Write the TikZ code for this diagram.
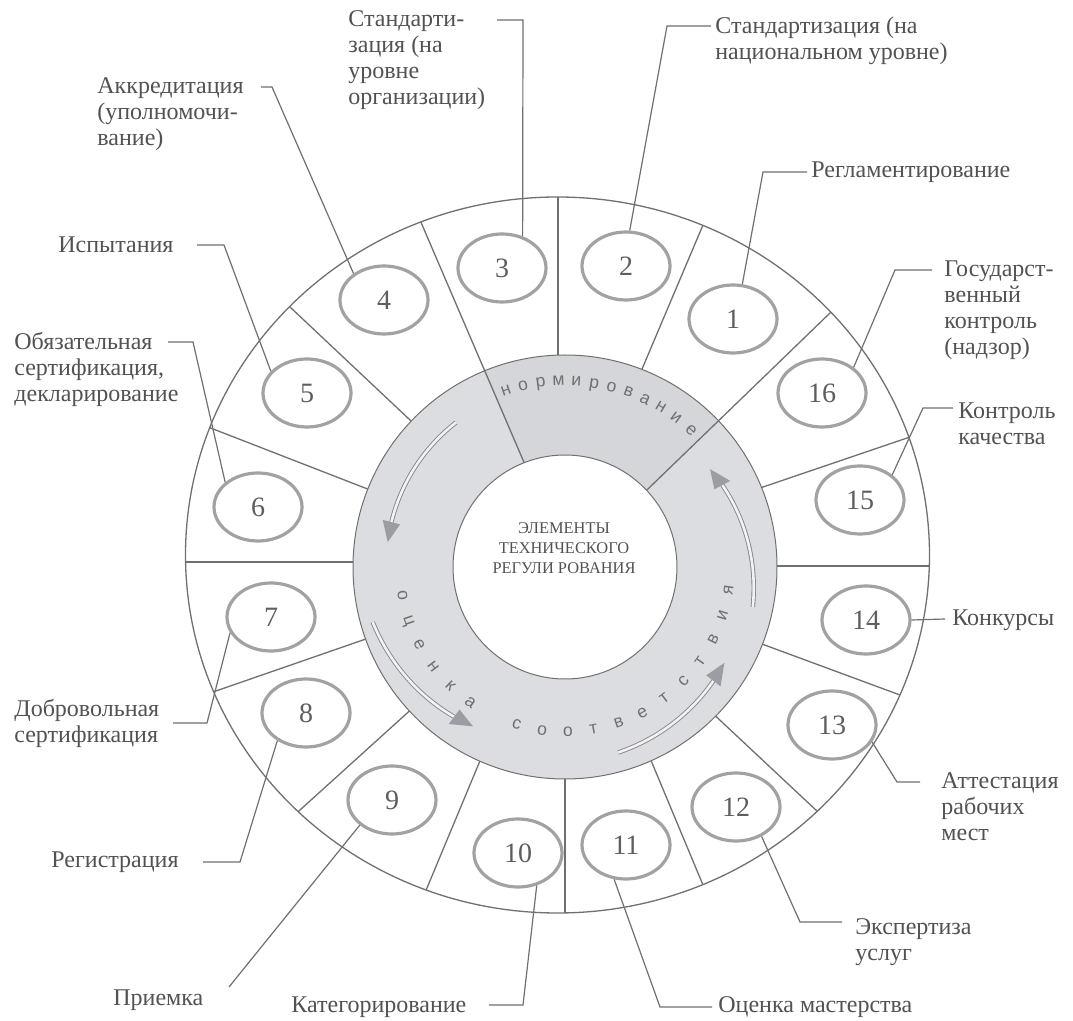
\documentclass[tikz,border=0pt]{standalone}
\usepackage{fontspec}
\setmainfont{Liberation Serif}
\newfontfamily\ringfont{Liberation Sans}
\usetikzlibrary{shapes.geometric,calc}
\definecolor{txt}{HTML}{525252}
\definecolor{ln}{HTML}{707070}
\definecolor{ellc}{HTML}{A2A2A2}
\definecolor{ringfill}{HTML}{DCDDE1}
\definecolor{ringtop}{HTML}{D5D6DA}
\definecolor{arrc}{HTML}{9C9CA4}
\definecolor{numc}{HTML}{5E5E5E}
\definecolor{ringtxt}{HTML}{707070}
\newcommand\ringarrow[4]{%
  \pgfmathsetmacro\hbase{#2-6.5}%
  \pgfmathsetmacro\rbase{#3+(#4-#3)*(\hbase-#1)/(#2-#1)}%
  \draw[dbl] plot[domain=#1:\hbase, samples=40, smooth] ({565+(#3+(#4-#3)*(\x-#1)/(#2-#1))*cos(\x)}, {567-(#3+(#4-#3)*(\x-#1)/(#2-#1))*sin(\x)});%
  \fill[arrc] ({565+#4*cos(#2)},{567-#4*sin(#2)}) -- ({565+(\rbase+9)*cos(\hbase)},{567-(\rbase+9)*sin(\hbase)}) -- ({565+(\rbase-9)*cos(\hbase)},{567-(\rbase-9)*sin(\hbase)}) -- cycle;%
}
\begin{document}
\begin{tikzpicture}[x=0.5pt,y=-0.5pt,
  numell/.style={ellipse, draw=ellc, line width=1.6pt, minimum width=44pt, minimum height=34pt, inner sep=0pt, font=\fontsize{14}{14}\selectfont, text=numc, fill=white},
  lbl/.style={inner sep=0pt, text=txt, font=\fontsize{12}{13}\selectfont, align=left},
  leader/.style={draw=ln, line width=0.6pt},
  divider/.style={draw=ln, line width=0.65pt},
  ringlet/.style={inner sep=0pt, text=ringtxt, text height=1ex, text depth=0pt, font=\ringfont\fontsize{8.8}{8.8}\selectfont},
  dbl/.style={draw=arrc!85!black, line width=0.45pt, double=white!90!gray, double distance=1.3pt},
  ]
\path[fill=white] (0,0) rectangle (1073,1021);
\useasboundingbox (0,0) rectangle (1073,1021);

% regular dividers of the outer ring
\begin{scope}
\clip (557.5,555) ellipse [x radius=372, y radius=358];
\foreach \ax/\ay/\bx/\by in {558/197/558/357, 703/225/645/362, 910/437/763/487, 930/566/781/566, 900/695/770/647, 818/812/723/723, 703/885/655/770, 565/912/565/787, 427/888/477/768, 300/810/405/715, 213/692/363/640, 185/562/353/562, 208/427/365/488, 290/307/410/420}
  {\draw[divider] ($(\ax,\ay)!-0.2!(\bx,\by)$) -- ($(\ax,\ay)!1.4!(\bx,\by)$);}
\end{scope}

% grey ring
\fill[ringfill] (565,567) circle [radius=212];
\begin{scope}
\clip (565,567) circle [radius=212];
\fill[ringtop] ($(420,220)!-0.5!(523,460)$) -- (568,566) -- ($(830,313)!-0.5!(650,487)$) -- cycle;
\end{scope}
\draw[ln, line width=0.5pt] (565,567) circle [radius=212];

% two dividers that cross the grey ring
\begin{scope}
\clip (557.5,555) ellipse [x radius=372, y radius=358];
\draw[divider] ($(420,220)!-0.2!(523,460)$) -- ($(420,220)!1.2!(523,460)$);
\draw[divider] ($(830,313)!-0.2!(650,487)$) -- ($(830,313)!1.2!(650,487)$);
\end{scope}

% white centre
\filldraw[fill=white, draw=ln, line width=0.5pt] (565,567) circle [radius=112];
% outer border
\draw[ln, line width=0.65pt] (557.5,555) ellipse [x radius=372, y radius=358];

% numbered ellipses
\node[numell] (e1) at (733,319) {1};
\node[numell] (e2) at (626,266) {2};
\node[numell] (e3) at (502,268) {3};
\node[numell] (e4) at (384,300) {4};
\node[numell] (e5) at (307,393) {5};
\node[numell] (e6) at (258,507) {6};
\node[numell] (e7) at (271,617) {7};
\node[numell] (e8) at (306,713) {8};
\node[numell] (e9) at (392,800) {9};
\node[numell] (e10) at (518,853) {10};
\node[numell] (e11) at (626,845) {11};
\node[numell] (e12) at (736,807) {12};
\node[numell] (e13) at (832,725) {13};
\node[numell] (e14) at (866,620) {14};
\node[numell] (e15) at (860,500) {15};
\node[numell] (e16) at (822,393) {16};

% centre text
\node[inner sep=0pt, text=txt, align=center, font=\fontsize{8.2}{10}\selectfont] (title) at (564,548) {ЭЛЕМЕНТЫ\\ТЕХНИЧЕСКОГО\\РЕГУЛИ РОВАНИЯ};

% ring lettering
\foreach \ch/\a in {н/108.5, о/103, р/97.5, м/92, и/86.5, р/81, о/75.5, в/70, а/64.5, н/59, и/53.3, е/47.3}
  {\node[ringlet, rotate=\a-90] at ({565+186*cos(\a)},{567-186*sin(\a)}) {\ch};}
\foreach \ch/\a in {о/190, ц/199, е/208, н/217, к/226, а/235, с/253, о/262, о/271, т/280, в/289, е/298, т/307, с/316, т/325, в/334, и/343, я/352}
  {\node[ringlet, rotate=\a+90] at ({565+165*cos(\a)},{567-165*sin(\a)}) {\ch};}

% ring arrows
\ringarrow{127}{172}{181}{179}
\ringarrow{196}{240}{200}{184}
\ringarrow{286}{329}{193}{186}
\ringarrow{348}{394}{192}{175}

% labels
\node[lbl, anchor=west] (l1) at (811,172) {Регламентирование};
\node[lbl, anchor=north west] (l2) at (715,16) {Стандартизация (на\\национальном уровне)};
\node[lbl, anchor=north west] (l3) at (348,10) {Стандарти-\\зация (на\\уровне\\организации)};
\node[lbl, anchor=north west] (l4) at (97,77) {Аккредитация\\(уполномочи-\\вание)};
\node[lbl, anchor=west] (l5) at (58,245) {Испытания};
\node[lbl, anchor=north west] (l6) at (14,332) {Обязательная\\сертификация,\\декларирование};
\node[lbl, anchor=north west] (l7) at (14,699) {Добровольная\\сертификация};
\node[lbl, anchor=west] (l8) at (51,862) {Регистрация};
\node[lbl, anchor=west] (l9) at (113,1000) {Приемка};
\node[lbl, anchor=west] (l10) at (291,1007) {Категорирование};
\node[lbl, anchor=west] (l11) at (718,1007) {Оценка мастерства};
\node[lbl, anchor=north west] (l12) at (855,918) {Экспертиза\\услуг};
\node[lbl, anchor=north west] (l13) at (941,772) {Аттестация\\рабочих\\мест};
\node[lbl, anchor=west] (l14) at (952,620) {Конкурсы};
\node[lbl, anchor=north west] (l15) at (958,402) {Контроль\\качества};
\node[lbl, anchor=north west] (l16) at (944,260) {Государст-\\венный\\контроль\\(надзор)};

% leader bend / end points
\coordinate (c1) at (763,172);  \coordinate (d1) at (807,172);
\coordinate (c2) at (667,26);   \coordinate (d2) at (711,26);
\coordinate (c3) at (523,20);   \coordinate (d3) at (497,20);
\coordinate (c4) at (272,87);   \coordinate (d4) at (261,87);
\coordinate (c5) at (224,245);  \coordinate (d5) at (197,245);
\coordinate (c6) at (193,342);  \coordinate (d6) at (168,342);
\coordinate (c7) at (207,723);  \coordinate (d7) at (173,723);
\coordinate (c8) at (240,862);  \coordinate (d8) at (203,862);
\coordinate (c9) at (229,987);
\coordinate (c10) at (523,1005); \coordinate (d10) at (489,1005);
\coordinate (c11) at (660,1007); \coordinate (d11) at (712,1007);
\coordinate (c12) at (800,922);  \coordinate (d12) at (842,922);
\coordinate (c13) at (897,782);  \coordinate (d13) at (920,782);
\coordinate (d14) at (945,619);
\coordinate (c15) at (923,408);  \coordinate (d15) at (953,408);
\coordinate (c16) at (895,270);  \coordinate (d16) at (932,270);

% leaders
\draw[leader] (e1.75) -- (c1) -- (d1);
\draw[leader] (e2.84) -- (c2) -- (d2);
\draw[leader] (e3.57) -- (c3) -- (d3);
\draw[leader] (e4.139) -- (c4) -- (d4);
\draw[leader] (e5.149) -- (c5) -- (d5);
\draw[leader] (e6.143) -- (c6) -- (d6);
\draw[leader] (e7.201) -- (c7) -- (d7);
\draw[leader] (e8.224) -- (c8) -- (d8);
\draw[leader] (e9.218) -- (c9);
\draw[leader] (e10.300) -- (c10) -- (d10);
\draw[leader] (e11.251) -- (c11) -- (d11);
\draw[leader] (e12.311) -- (c12) -- (d12);
\draw[leader] (e13.337) -- (c13) -- (d13);
\draw[leader] (e14.0) -- (d14);
\draw[leader] (e15.38) -- (c15) -- (d15);
\draw[leader] (e16.39) -- (c16) -- (d16);
\end{tikzpicture}
\end{document}
